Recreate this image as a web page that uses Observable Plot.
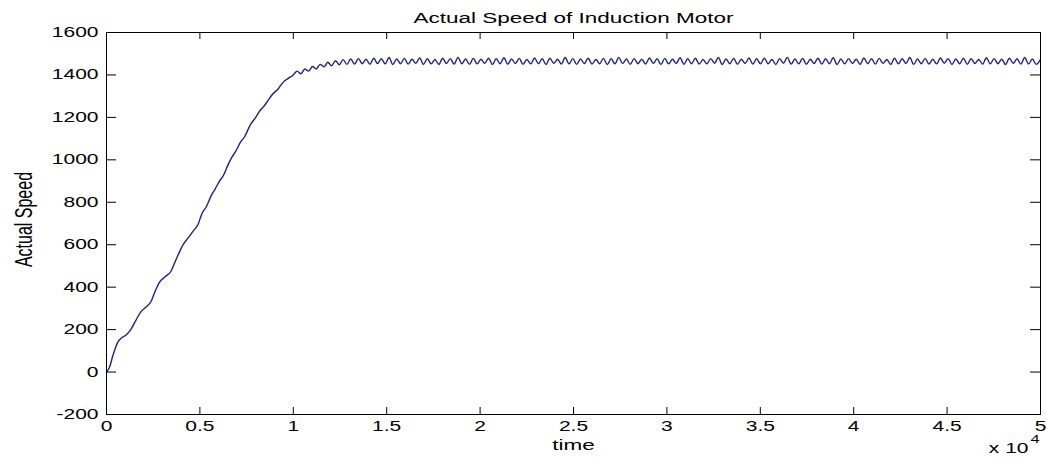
<!DOCTYPE html>
<html>
<head>
<meta charset="utf-8">
<script src="https://cdn.jsdelivr.net/npm/d3@7"></script>
<script src="https://cdn.jsdelivr.net/npm/@observablehq/plot@0.6"></script>
<style>
  html, body { margin: 0; padding: 0; background: #fff; }
  #chart svg { display: block; }
</style>
</head>
<body>
<div id="chart"></div>
<script>
// ---- data ----
const titleText = "Actual Speed of Induction Motor";
const xLabel = "time";
const yLabel = "Actual Speed";
const xTicks = [0, 5000, 10000, 15000, 20000, 25000, 30000, 35000, 40000, 45000, 50000];
const yTicks = [-200, 0, 200, 400, 600, 800, 1000, 1200, 1400, 1600];

// acceleration phase (time, speed)
const riseTime = [0, 150, 350, 600, 800, 1050, 1300, 1550, 1850, 2100, 2400, 2600, 2850, 3150, 3450, 3650, 3850, 4100, 4350, 4650, 4900, 5100, 5350, 5600, 5800, 6050, 6250, 6500, 6700, 6950, 7150, 7400, 7700, 7950, 8200, 8450, 8650, 8900, 9200, 9450, 9750];
const riseSpeed = [0, 20, 80, 140, 160, 175, 200, 240, 285, 305, 335, 380, 425, 450, 475, 515, 555, 600, 630, 665, 695, 745, 780, 830, 860, 900, 925, 975, 1010, 1045, 1080, 1110, 1165, 1195, 1230, 1255, 1280, 1310, 1335, 1365, 1385];

// steady-state phase: speed sampled every plateauStep time units from plateauStart
const plateauStart = 10000;
const plateauStep = 205;
const plateauSpeed = [
  1400,1418,1405,1428,1418,1440,1428,1450,1438,1460,1443,1467,1448,1472,1450,1475,
  1451,1477, 1453,1474, 1450,1479, 1454,1476, 1452,1482, 1449,1475, 1453,1478, 1451,1474, 1455,1480, 1450,1476,
  1452,1473, 1449,1479, 1454,1477, 1451,1483, 1453,1475, 1450,1478, 1452,1474, 1455,1479, 1449,1476, 1453,1481,
  1451,1475, 1454,1478, 1450,1473, 1452,1480, 1453,1476, 1449,1479, 1455,1474, 1451,1482, 1452,1477, 1450,1475,
  1454,1479, 1451,1473, 1453,1478, 1449,1476, 1452,1483, 1454,1475, 1450,1477, 1453,1474, 1451,1480, 1455,1476,
  1449,1478, 1452,1474, 1454,1481, 1450,1476, 1453,1479, 1451,1473, 1452,1477, 1455,1482, 1449,1475, 1453,1478,
  1450,1474, 1454,1480, 1451,1476, 1452,1479, 1453,1473, 1449,1477, 1455,1483, 1451,1475, 1452,1478, 1450,1474,
  1454,1479, 1451,1476, 1453,1481, 1449,1475, 1452,1477, 1454,1474, 1450,1480, 1453,1476, 1451,1478, 1455,1473,
  1449,1479, 1452,1476, 1454,1482, 1450,1475, 1453,1478, 1451,1474, 1452,1480, 1455,1477, 1449,1475, 1453,1479,
  1450,1476, 1454,1473, 1451,1481, 1452,1477, 1453,1474, 1449,1479, 1455,1476, 1451,1482, 1452,1475, 1450,1470
];

// ---- table for the line ----
const series = [
  ...riseTime.map((t, i) => ({t, v: riseSpeed[i]})),
  ...plateauSpeed.map((v, i) => ({t: plateauStart + i * plateauStep, v}))
];

const W = 1046, H = 465;
const mL = 106, mR = 6, mT = 32, mB = 51;
const frameW = W - mL - mR, frameH = H - mT - mB;
const xTickLen = 7, yTickLen = 10;

const svg = Plot.plot({
  width: W,
  height: H,
  marginLeft: mL,
  marginRight: mR,
  marginTop: mT,
  marginBottom: mB,
  style: {fontFamily: "'Liberation Sans', Arial, sans-serif", background: "#fff", color: "#000", overflow: "visible"},
  x: {domain: [0, 50000]},
  y: {domain: [-200, 1600]},
  marks: [
    Plot.line(series, {x: "t", y: "v", stroke: "#20208c", strokeWidth: 1.4, curve: "monotone-x"}),
    Plot.frame({stroke: "#000", strokeWidth: 1}),
    // inward ticks on all four sides
    Plot.ruleX(xTicks, {x: d => d, insetTop: frameH - xTickLen, stroke: "#000"}),
    Plot.ruleX(xTicks, {x: d => d, insetBottom: frameH - xTickLen, stroke: "#000"}),
    Plot.ruleY(yTicks, {y: d => d, insetRight: frameW - yTickLen, stroke: "#000"}),
    Plot.ruleY(yTicks, {y: d => d, insetLeft: frameW - yTickLen, stroke: "#000"}),
    Plot.axisX(xTicks, {tickSize: 0, tickPadding: 7, tickFormat: d => String(d / 1e4), label: null, fontSize: 14}),
    Plot.axisY(yTicks, {tickSize: 0, tickPadding: 8, tickFormat: d => String(d), label: null, fontSize: 14}),
    Plot.text([titleText], {text: d => d, frameAnchor: "top", dy: -10, lineAnchor: "bottom", fontSize: 15}),
    Plot.text([xLabel], {text: d => d, frameAnchor: "bottom", dy: 35, lineAnchor: "bottom", fontSize: 15}),
    Plot.text(["x 10"], {text: d => d, frameAnchor: "bottom-right", dx: -12, dy: 38, textAnchor: "end", lineAnchor: "bottom", fontSize: 14}),
    Plot.text(["4"], {text: d => d, frameAnchor: "bottom-right", dx: -10, dy: 28, textAnchor: "start", lineAnchor: "bottom", fontSize: 11}),
    Plot.text([yLabel], {text: d => d, frameAnchor: "left", dx: -82, dy: -4, rotate: -90, textAnchor: "middle", lineAnchor: "middle", fontSize: 16})
  ]
});

// the reference's lettering is horizontally stretched; widen each text around its anchor
d3.select(svg).selectAll("text").each(function() {
  const el = this;
  const isYLabel = el.textContent === yLabel;
  let tr = el.getAttribute("transform") || "";
  const xa = el.getAttribute("x"), ya = el.getAttribute("y");
  const num = s => s != null && s !== "" && !/[a-z%]/i.test(s) && isFinite(parseFloat(s));
  let tx = 0, ty = 0;
  if (num(xa)) { tx = parseFloat(xa); el.removeAttribute("x"); }
  if (num(ya)) { ty = parseFloat(ya); el.removeAttribute("y"); }
  if (tx || ty) tr += ` translate(${tx},${ty})`;
  tr += isYLabel ? " scale(1,1.5)" : " scale(1.5,1)";
  el.setAttribute("transform", tr.trim());
});

document.getElementById("chart").appendChild(svg);
</script>
</body>
</html>
